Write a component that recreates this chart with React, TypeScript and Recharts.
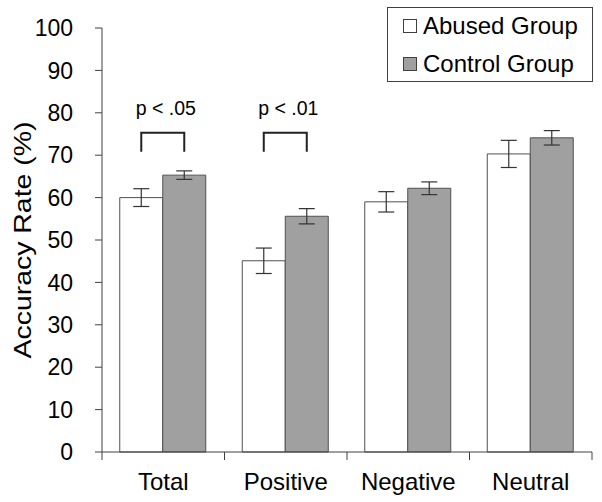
import React from 'react';
import { BarChart, Bar, XAxis, YAxis, ErrorBar, Legend, LabelList, Label } from 'recharts';

const categories = ['Total', 'Positive', 'Negative', 'Neutral'];
const abusedValues = [60.0, 45.1, 59.0, 70.3];
const controlValues = [65.3, 55.6, 62.2, 74.1];
const abusedErrors = [2.1, 3.0, 2.4, 3.2];
const controlErrors = [1.0, 1.8, 1.5, 1.7];
const sigLabels = ['p < .05', 'p < .01', '', ''];
const bracketTop = [75.3, 75.3, null, null];
const bracketBottom = [70.8, 70.8, null, null];
const sigTextBase = [79.5, 79.5, null, null];
const yTicks = [0, 10, 20, 30, 40, 50, 60, 70, 80, 90, 100];
const seriesNames = ['Abused Group', 'Control Group'];

const data = categories.map((c, i) => ({
  name: c,
  abused: abusedValues[i],
  control: controlValues[i],
  abusedErr: abusedErrors[i],
  controlErr: controlErrors[i],
}));

const FONT = '"Liberation Sans", Arial, sans-serif';
const AXIS = '#404040';

const XTick = (props: any) => {
  const { x, y, payload, index } = props;
  const off = payload && typeof payload.offset === 'number' ? payload.offset : 61.25;
  const isLast = index === categories.length - 1;
  return (
    <g>
      <line x1={x - off} x2={x - off} y1={y - 8} y2={y} stroke={AXIS} strokeWidth={1} />
      {isLast && <line x1={x + off} x2={x + off} y1={y - 8} y2={y} stroke={AXIS} strokeWidth={1} />}
      <text x={x} y={y + 30} textAnchor="middle" fontSize={24} fontFamily={FONT} fill="#000">
        {payload.value}
      </text>
    </g>
  );
};

const SigContent = (props: any) => {
  const vb = props.viewBox || props;
  const i = props.index;
  if (i == null || bracketTop[i] == null) return null;
  const x = vb.x;
  const w = vb.width;
  const h = Math.abs(vb.height);
  const top = Math.min(vb.y, vb.y + vb.height);
  const base = top + h;
  const k = h / abusedValues[i];
  const c1 = x + w / 2;
  const c2 = x + w * 1.5;
  const yt = base - (bracketTop[i] as number) * k;
  const yb = base - (bracketBottom[i] as number) * k;
  const ty = base - (sigTextBase[i] as number) * k;
  return (
    <g>
      <path d={`M${c1},${yb}L${c1},${yt}L${c2},${yt}L${c2},${yb}`} fill="none" stroke="#222" strokeWidth={2} />
      <text x={(c1 + c2) / 2 + 3} y={ty} textAnchor="middle" fontSize={19.5} fontFamily={FONT} fill="#000">
        {sigLabels[i]}
      </text>
    </g>
  );
};

const YLabel = (props: any) => {
  const vb = props.viewBox || { x: 0, y: 28, width: 102, height: 424 };
  const cx = vb.x + 22;
  const cy = vb.y + vb.height / 2;
  return (
    <text
      x={cx}
      y={cy}
      transform={`rotate(-90 ${cx} ${cy})`}
      textAnchor="middle"
      dominantBaseline="central"
      fontSize={24}
      fontFamily={FONT}
      fill="#000"
      textLength={237}
      lengthAdjust="spacingAndGlyphs"
    >
      Accuracy Rate (%)
    </text>
  );
};

const LegendBox = () => {
  const fills = ['#ffffff', '#a0a0a0'];
  return (
    <div
      style={{
        width: 204,
        height: 73,
        border: '1px solid #404040',
        background: '#fff',
        position: 'relative',
        fontFamily: FONT,
      }}
    >
      {seriesNames.map((n, i) => (
        <div
          key={n}
          style={{
            position: 'absolute',
            left: 15,
            top: 4 + i * 38,
            height: 28,
            display: 'flex',
            alignItems: 'center',
            whiteSpace: 'nowrap',
          }}
        >
          <span
            style={{
              display: 'inline-block',
              width: 12,
              height: 12,
              background: fills[i],
              border: '1px solid #404040',
              marginRight: 6,
            }}
          />
          <span style={{ fontSize: 24, color: '#000', lineHeight: '28px' }}>{n}</span>
        </div>
      ))}
    </div>
  );
};

export default function App() {
  return (
    <div style={{ position: 'absolute', left: 0, top: 0, width: 602, height: 502, background: '#fff' }}>
      <BarChart
        width={602}
        height={502}
        data={data}
        margin={{ top: 28, right: 10, bottom: 0, left: 0 }}
        barCategoryGap="14.5%"
        barGap={0}
      >
        <XAxis
          dataKey="name"
          height={50}
          tickLine={false}
          tickSize={8}
          tickMargin={0}
          stroke={AXIS}
          tick={<XTick />}
          interval={0}
        />
        <YAxis
          width={102}
          domain={[0, 100]}
          ticks={yTicks}
          tickSize={7}
          tickMargin={22}
          stroke={AXIS}
          interval={0}
          tick={{ fontSize: 23, fontFamily: FONT, fill: '#000' }}
        >
          <Label content={<YLabel />} position="insideLeft" />
        </YAxis>
        <Legend
          layout="horizontal"
          verticalAlign="middle"
          align="center"
          wrapperStyle={{ top: 7, left: 387, width: 206 }}
          content={<LegendBox />}
        />
        <Bar dataKey="abused" name={seriesNames[0]} fill="#ffffff" stroke="#505050" strokeWidth={1} isAnimationActive={false}>
          <ErrorBar dataKey="abusedErr" width={8} stroke="#333" strokeWidth={1.2} />
          <LabelList dataKey="abused" content={<SigContent />} />
        </Bar>
        <Bar dataKey="control" name={seriesNames[1]} fill="#a0a0a0" stroke="#505050" strokeWidth={1} isAnimationActive={false}>
          <ErrorBar dataKey="controlErr" width={8} stroke="#333" strokeWidth={1.2} />
        </Bar>
      </BarChart>
    </div>
  );
}
